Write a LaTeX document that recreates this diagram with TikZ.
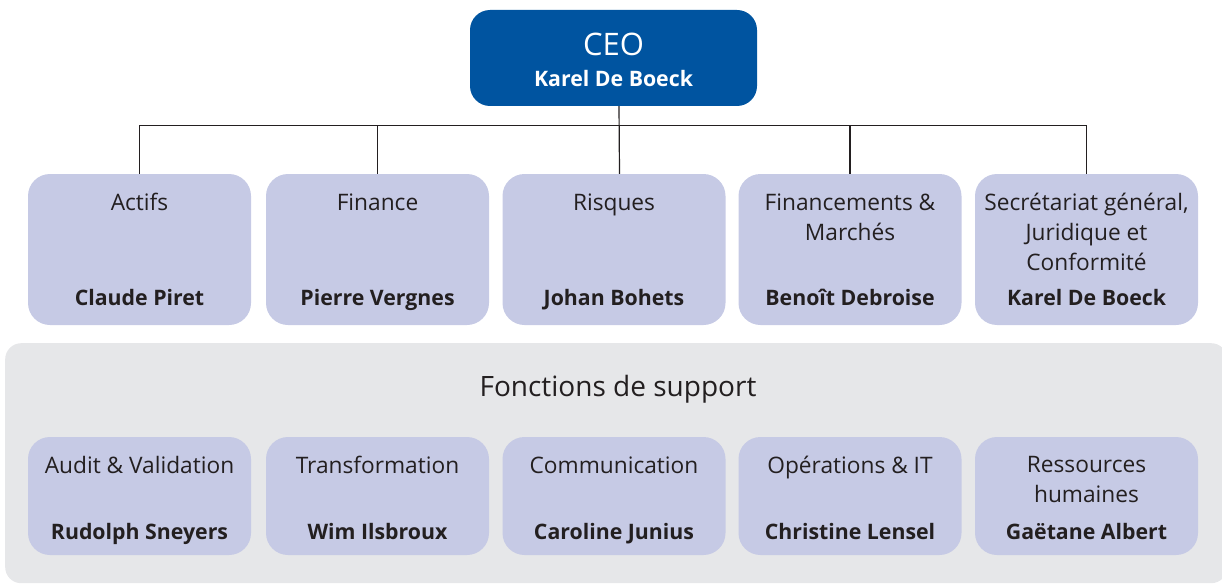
\documentclass[tikz,border=0pt]{standalone}
\usepackage{fontspec}
\setmainfont{Open Sans}
\definecolor{ceoblue}{HTML}{0054A0}
\definecolor{unitfill}{HTML}{C6CAE5}
\definecolor{supportgray}{HTML}{E6E7E9}
\definecolor{ink}{HTML}{231F20}
\begin{document}
\begin{tikzpicture}[x=1pt,y=-1pt,
  unitbox/.style={rectangle, rounded corners=22pt, fill=unitfill, draw=none, minimum width=223pt, inner sep=0pt},
  topunit/.style={unitbox, minimum height=151pt},
  supunit/.style={unitbox, minimum height=118pt},
  titletext/.style={anchor=north, align=center, text=ink, inner sep=0pt, font=\fontsize{22.7}{30}\selectfont},
  nametext/.style={anchor=base, align=center, text=ink, inner sep=0pt, font=\fontsize{21.3}{30}\selectfont\bfseries},
  link/.style={draw=ink, line width=1.2pt}]
\useasboundingbox (0,0) rectangle (1222,583);
\begin{scope}
\clip (0,0) rectangle (1222,583);
\node[name=support, rectangle, rounded corners=16pt, fill=supportgray, draw=none, minimum width=1222pt, minimum height=240pt, inner sep=0pt, anchor=north west] at (5,343) {};
\end{scope}
% CEO
\node[name=ceo, rectangle, rounded corners=20pt, fill=ceoblue, minimum width=287pt, minimum height=96pt, inner sep=0pt] at (613.5,58) {};
\node[name=ceot, anchor=base, text=white, inner sep=0pt, font=\fontsize{31}{36}\selectfont] at (613.5,56) {CEO};
\node[name=ceon, anchor=base, text=white, inner sep=0pt, font=\fontsize{21.3}{30}\selectfont\bfseries] at (613.5,87) {Karel De Boeck};
% top units
\node[name=u1, topunit] at (139.5,249.5) {};
\node[name=u2, topunit] at (377.5,249.5) {};
\node[name=u3, topunit] at (614,249.5) {};
\node[name=u4, topunit] at (850,249.5) {};
\node[name=u5, topunit] at (1086.5,249.5) {};
\foreach \n/\t/\p in {u1/Actifs/Claude Piret, u2/Finance/Pierre Vergnes, u3/Risques/Johan Bohets, u4/{Financements \&\\Marchés}/Benoît Debroise, u5/{Secrétariat général,\\Juridique et\\Conformité}/Karel De Boeck}{
  \node[name=\n t, titletext] at ([yshift=-19.5pt]\n.north) {\t};
  \node[name=\n n, nametext] at ([yshift=-132pt]\n.north) {\p};
}
% connectors
\coordinate (bus) at (0,125.5);
\coordinate (ceox) at ([xshift=5.5pt]ceo.south);
\coordinate (u3x) at ([xshift=5.5pt]u3.north);
\draw[link] (u1.north) -- (u1.north |- bus) -- (u5.north |- bus) -- (u5.north);
\draw[link] (u2.north) -- (u2.north |- bus);
\draw[link] (u4.north) -- (u4.north |- bus);
\draw[link] (ceox) -- (u3x);
% support
\node[name=supt, anchor=base, text=ink, inner sep=0pt, font=\fontsize{28}{34}\selectfont] at (618,396) {Fonctions de support};
\node[name=s1, supunit] at (139.5,496) {};
\node[name=s2, supunit] at (377.5,496) {};
\node[name=s3, supunit] at (614,496) {};
\node[name=s4, supunit] at (850,496) {};
\node[name=s5, supunit] at (1086.5,496) {};
\foreach \n/\t/\p in {s1/Audit \& Validation/Rudolph Sneyers, s2/Transformation/Wim Ilsbroux, s3/Communication/Caroline Junius, s4/Opérations \& IT/Christine Lensel, s5/{Ressources\\humaines}/Gaëtane Albert}{
  \node[name=\n t, titletext] at ([yshift=-19.5pt]\n.north) {\t};
  \node[name=\n n, nametext] at ([yshift=-103pt]\n.north) {\p};
}
\end{tikzpicture}
\end{document}
